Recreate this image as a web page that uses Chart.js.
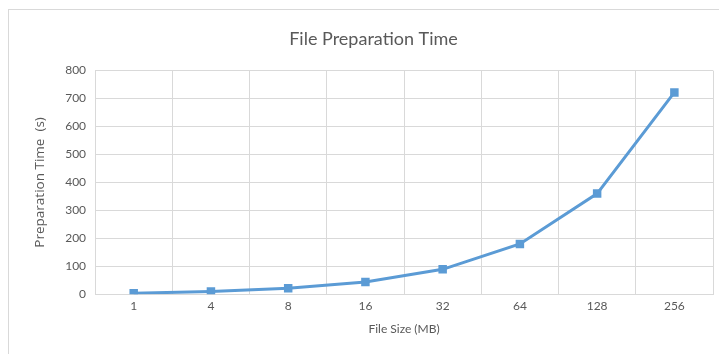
<!DOCTYPE html>
<html><head><meta charset="utf-8">
<script src="https://cdn.jsdelivr.net/npm/chart.js@4"></script>
<style>
html,body{margin:0;padding:0;background:#fff;overflow:hidden;}
#frame{position:absolute;left:8px;top:9px;width:730px;height:360px;border:1px solid #d9d9d9;box-sizing:border-box;}
#wrap{position:absolute;left:0;top:0;width:719px;height:354px;}
</style></head>
<body>
<div id="frame"></div>
<div id="wrap"><canvas id="c" width="719" height="354"></canvas></div>
<script>
const categories = ["1","4","8","16","32","64","128","256"];
const prepTime = [3, 10, 21, 44, 89, 180, 360, 722];
const yTicks = [0,100,200,300,400,500,600,700,800];

const txt = '#595959';
new Chart(document.getElementById('c'), {
  type: 'line',
  data: {
    labels: categories,
    datasets: [{
      label: 'Preparation Time',
      data: prepTime,
      borderColor: '#5B9BD5',
      backgroundColor: '#5B9BD5',
      borderWidth: 3,
      pointStyle: 'rect',
      pointRadius: 6,
      pointBorderWidth: 0,
      tension: 0,
      fill: false
    }]
  },
  options: {
    responsive: false,
    animation: false,
    devicePixelRatio: 1,
    layout: { padding: { left: 32, right: 4, top: 0, bottom: 18 } },
    plugins: {
      legend: { display: false },
      tooltip: { enabled: false },
      title: {
        display: true,
        text: 'File Preparation Time',
        color: txt,
        font: { family: 'Lato', size: 18, weight: 'normal' },
        padding: { top: 28, bottom: 21 }
      }
    },
    scales: {
      x: {
        offset: true,
        grid: { offset: true, color: '#d9d9d9', drawTicks: false },
        border: { color: '#d9d9d9' },
        ticks: { color: txt, font: { family: 'Lato', size: 12 }, padding: 5 },
        title: { display: true, text: 'File Size (MB)', color: txt, font: { family: 'Lato', size: 12 }, padding: { top: 3, bottom: 0 } }
      },
      y: {
        min: 0, max: 800,
        afterBuildTicks: (s) => { s.ticks = yTicks.map(v => ({ value: v })); },
        grid: { color: '#d9d9d9', drawTicks: false },
        border: { display: false },
        ticks: { color: txt, font: { family: 'Lato', size: 12 }, padding: 9 },
        title: { display: true, text: 'Preparation Time  (s)', color: txt, font: { family: 'Open Sans', size: 13.5 }, padding: { top: 0, bottom: 8 } }
      }
    }
  }
});
</script>
</body></html>
